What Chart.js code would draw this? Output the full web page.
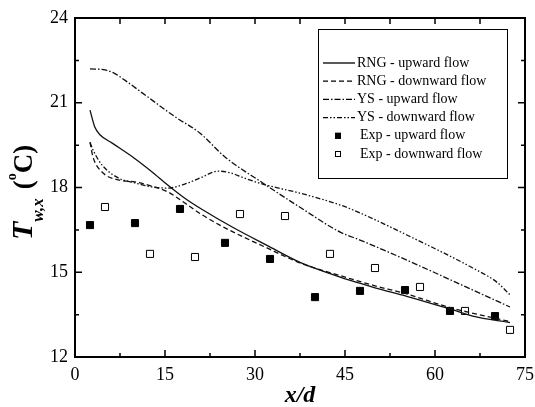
<!DOCTYPE html>
<html lang="en">
<head>
    <meta charset="UTF-8">
    <title>Wall temperature along the pipe</title>
    <script src="https://cdn.jsdelivr.net/npm/chart.js"></script>
    <style>
        body { margin: 0; background: #fff; }
    </style>
</head>
<body>
    <canvas id="wallTempChart" width="535" height="407"></canvas>

    <script>
        // axis ticks
        const xTickValues = [0, 15, 30, 45, 60, 75];
        const yTickValues = [12, 15, 18, 21, 24];

        // RNG model, upward flow
        const rngUpX = [2.5, 3.3, 4.2, 6.2, 10, 12.8, 15.5, 18.3, 21.2, 26.2, 32, 37.5, 44.2, 47.3, 50, 55.3, 62.5, 66.3, 72.5];
        const rngUpY = [20.74, 20.14, 19.86, 19.57, 19.02, 18.56, 18.08, 17.62, 17.22, 16.6, 15.95, 15.35, 14.83, 14.62, 14.45, 14.15, 13.7, 13.45, 13.22];

        // RNG model, downward flow
        const rngDownX = [2.5, 3, 4.5, 7.2, 10, 12.8, 15.5, 18.3, 21.2, 25, 32, 37.5, 44.2, 50, 55, 62.5, 72.5];
        const rngDownY = [19.6, 19.08, 18.55, 18.27, 18.2, 18.05, 17.84, 17.45, 17.03, 16.57, 15.86, 15.33, 14.88, 14.52, 14.25, 13.75, 13.25];

        // YS model, upward flow
        const ysUpX = [2.5, 5, 6.5, 8.3, 11.2, 16.7, 20.8, 25, 31.3, 37.5, 44.2, 47.5, 55.3, 66.3, 72.5];
        const ysUpY = [22.2, 22.16, 22.05, 21.8, 21.35, 20.5, 19.93, 19.08, 18.16, 17.3, 16.42, 16.14, 15.43, 14.37, 13.77];

        // YS model, downward flow
        const ysDownX = [2.5, 3, 4.5, 7.2, 10, 12.8, 15.5, 18.3, 21.2, 23.8, 26.2, 28, 31.3, 37.5, 44.2, 47.5, 55.3, 66.3, 70.3, 72.5];
        const ysDownY = [19.6, 19.33, 18.8, 18.34, 18.16, 18.02, 17.98, 18.12, 18.37, 18.58, 18.5, 18.35, 18.12, 17.8, 17.38, 17.1, 16.32, 15.15, 14.65, 14.2];

        // measurements
        const expUpX = [2.5, 10, 17.5, 25, 32.5, 40, 47.5, 55, 62.5, 70];
        const expUpY = [16.67, 16.74, 17.24, 16.04, 15.47, 14.12, 14.34, 14.37, 13.63, 13.45];
        const expDownX = [5, 12.5, 20, 27.5, 35, 42.5, 50, 57.5, 65, 72.5];
        const expDownY = [17.31, 15.65, 15.54, 17.06, 16.99, 15.65, 15.15, 14.48, 13.63, 12.96];

        const serif = '"Liberation Serif", "Times New Roman", serif';
        const toPoints = (xs, ys) => xs.map((x, i) => ({ x: x, y: ys[i] }));

        function curve(label, xs, ys, dash) {
            return {
                label: label,
                data: toPoints(xs, ys),
                showLine: true,
                borderColor: '#111',
                borderWidth: 1.3,
                borderDash: dash,
                pointRadius: 0,
                pointHoverRadius: 0,
                fill: false,
                cubicInterpolationMode: 'monotone'
            };
        }

        function markers(label, xs, ys, fillColor) {
            return {
                label: label,
                data: toPoints(xs, ys),
                showLine: false,
                pointStyle: 'rect',
                pointRadius: 5,
                pointHoverRadius: 5,
                pointBackgroundColor: fillColor,
                pointBorderColor: '#000',
                pointBorderWidth: 1
            };
        }

        // frame with inward ticks, legend box and axis titles
        const decorations = {
            id: 'decorations',
            afterDatasetsDraw(chart) {
                const { ctx, chartArea: a, scales: { x, y } } = chart;
                ctx.save();
                ctx.setLineDash([]);
                ctx.strokeStyle = '#000';
                ctx.lineWidth = 2;
                ctx.strokeRect(a.left, a.top, a.right - a.left, a.bottom - a.top);

                ctx.lineWidth = 1.5;
                ctx.beginPath();
                for (let i = 0; i < xTickValues.length; i++) {
                    const px = x.getPixelForValue(xTickValues[i]);
                    ctx.moveTo(px, a.bottom); ctx.lineTo(px, a.bottom - 7);
                    ctx.moveTo(px, a.top); ctx.lineTo(px, a.top + 6);
                    if (i < xTickValues.length - 1) {
                        const mx = x.getPixelForValue((xTickValues[i] + xTickValues[i + 1]) / 2);
                        ctx.moveTo(mx, a.bottom); ctx.lineTo(mx, a.bottom - 4);
                        ctx.moveTo(mx, a.top); ctx.lineTo(mx, a.top + 6);
                    }
                }
                for (let i = 0; i < yTickValues.length; i++) {
                    const py = y.getPixelForValue(yTickValues[i]);
                    ctx.moveTo(a.left, py); ctx.lineTo(a.left + 7, py);
                    ctx.moveTo(a.right, py); ctx.lineTo(a.right - 7, py);
                    if (i < yTickValues.length - 1) {
                        const my = y.getPixelForValue((yTickValues[i] + yTickValues[i + 1]) / 2);
                        ctx.moveTo(a.left, my); ctx.lineTo(a.left + 4, my);
                        ctx.moveTo(a.right, my); ctx.lineTo(a.right - 4, my);
                    }
                }
                ctx.stroke();

                // legend
                ctx.lineWidth = 1;
                ctx.strokeRect(318.5, 29.5, 189, 149);
                ctx.font = '14px ' + serif;
                ctx.fillStyle = '#000';
                ctx.textBaseline = 'middle';
                chart.data.datasets.forEach((ds, i) => {
                    const rowY = 63 + i * 18.2;
                    if (ds.showLine === false) {
                        ctx.setLineDash([]);
                        ctx.fillStyle = ds.pointBackgroundColor;
                        ctx.fillRect(335, rowY - 3, 6, 6);
                        ctx.strokeRect(335.5, rowY - 2.5, 5, 5);
                        ctx.fillStyle = '#000';
                        ctx.fillText(ds.label, 360, rowY);
                    } else {
                        ctx.setLineDash(ds.borderDash || []);
                        ctx.lineWidth = ds.borderWidth;
                        ctx.beginPath();
                        ctx.moveTo(323, rowY);
                        ctx.lineTo(355, rowY);
                        ctx.stroke();
                        ctx.lineWidth = 1;
                        ctx.fillText(ds.label, 357, rowY);
                    }
                });
                ctx.setLineDash([]);

                // x title
                ctx.textBaseline = 'alphabetic';
                ctx.textAlign = 'center';
                ctx.font = 'italic bold 24px ' + serif;
                ctx.fillText('x/d', (a.left + a.right) / 2, 402);

                // y title, rotated, with subscript and superscript
                ctx.translate(32, 240);
                ctx.rotate(-Math.PI / 2);
                ctx.textAlign = 'left';
                let cx = 0;
                const part = (text, font, dy) => {
                    ctx.font = font;
                    ctx.fillText(text, cx, dy);
                    cx += ctx.measureText(text).width;
                };
                part('T', 'italic bold 30px ' + serif, 0);
                part('w,x', 'italic bold 17px ' + serif, 11);
                cx += 9;
                part('(', 'bold 27px ' + serif, 0);
                part('o', 'bold 14px ' + serif, -16);
                part('C)', 'bold 27px ' + serif, 0);
                ctx.restore();
            }
        };

        new Chart(document.getElementById('wallTempChart'), {
            type: 'scatter',
            data: {
                datasets: [
                    curve('RNG - upward flow', rngUpX, rngUpY, []),
                    curve('RNG - downward flow', rngDownX, rngDownY, [5, 3]),
                    curve('YS - upward flow', ysUpX, ysUpY, [6, 2, 1.5, 2]),
                    curve('YS - downward flow', ysDownX, ysDownY, [5, 2, 1.5, 2, 1.5, 2]),
                    markers('Exp - upward flow', expUpX, expUpY, '#000'),
                    markers('Exp - downward flow', expDownX, expDownY, '#fff')
                ]
            },
            options: {
                responsive: false,
                animation: false,
                layout: { padding: { top: 18, right: 10, left: 0, bottom: 0 } },
                plugins: { legend: { display: false }, tooltip: { enabled: false } },
                scales: {
                    x: {
                        type: 'linear', min: 0, max: 75,
                        afterBuildTicks: s => { s.ticks = xTickValues.map(v => ({ value: v })); },
                        afterFit: s => { s.height = 50; },
                        grid: { display: false, drawTicks: true, tickLength: 7 },
                        border: { display: false },
                        ticks: { color: '#000', padding: 0, font: { family: serif, size: 18 } }
                    },
                    y: {
                        type: 'linear', min: 12, max: 24,
                        afterBuildTicks: s => { s.ticks = yTickValues.map(v => ({ value: v })); },
                        afterFit: s => { s.width = 75; },
                        grid: { display: false, drawTicks: true, tickLength: 7 },
                        border: { display: false },
                        ticks: { color: '#000', padding: 0, font: { family: serif, size: 18 } }
                    }
                }
            },
            plugins: [decorations]
        });
    </script>
</body>
</html>
